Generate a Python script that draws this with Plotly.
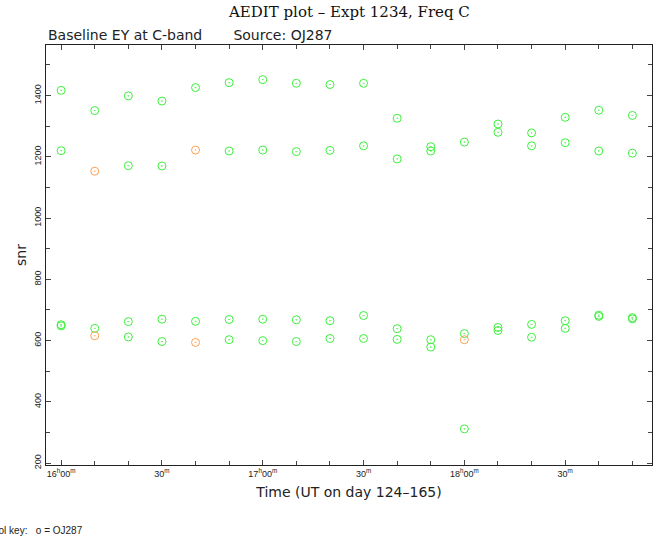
import pandas as pd
import plotly.graph_objects as go

DAY = "2000-01-01 "

# Good (green) scans
green_time = (["16:00"] * 4 + ["16:10"] * 2 + ["16:20"] * 4 + ["16:30"] * 4 +
              ["16:40"] * 2 + ["16:50"] * 4 + ["17:00"] * 4 + ["17:10"] * 4 +
              ["17:20"] * 4 + ["17:30"] * 4 + ["17:40"] * 4 + ["17:50"] * 4 +
              ["18:00"] * 3 + ["18:10"] * 4 + ["18:20"] * 4 + ["18:30"] * 4 +
              ["18:40"] * 4 + ["18:50"] * 4)
green_snr = [1417, 1220, 652, 648,
             1351, 640,
             1399, 1171, 662, 612,
             1382, 1170, 670, 597,
             1426, 663,
             1442, 1219, 669, 603,
             1452, 1222, 670, 600,
             1440, 1217, 668, 597,
             1436, 1221, 665, 607,
             1440, 1236, 682, 607,
             1326, 1193, 639, 604,
             1233, 1219, 603, 579,
             1248, 623, 312,
             1307, 1280, 643, 633,
             1278, 1236, 653, 611,
             1329, 1246, 665, 640,
             1352, 1219, 683, 679,
             1335, 1212, 675, 671]

# Flagged (orange) scans
orange_time = ["16:10", "16:10", "16:40", "16:40", "18:00"]
orange_snr = [1153, 616, 1222, 594, 603]

tick_times = ["16:00", "16:30", "17:00", "17:30", "18:00", "18:30"]
tick_text = ["16<sup>h</sup>00<sup>m</sup>", "30<sup>m</sup>", "17<sup>h</sup>00<sup>m</sup>",
             "30<sup>m</sup>", "18<sup>h</sup>00<sup>m</sup>", "30<sup>m</sup>"]
y_ticks = [200, 400, 600, 800, 1000, 1200, 1400]


def to_dt(ts):
    return pd.to_datetime([DAY + t for t in ts])


fig = go.Figure()
fig.add_trace(go.Scatter(
    x=to_dt(green_time), y=green_snr, mode="markers",
    marker=dict(symbol="circle-open-dot", size=8, color="#3cf03c", line=dict(width=1)),
    showlegend=False))
fig.add_trace(go.Scatter(
    x=to_dt(orange_time), y=orange_snr, mode="markers",
    marker=dict(symbol="circle-open-dot", size=8, color="#ffa050", line=dict(width=1)),
    showlegend=False))

axis_common = dict(showline=True, linecolor="#222", linewidth=1, mirror="ticks",
                   ticks="inside", ticklen=5, tickcolor="#444", showgrid=False,
                   zeroline=False, automargin=False)

fig.update_xaxes(
    **axis_common,
    type="date",
    range=[DAY + "15:55:30", DAY + "18:55:50"],
    tickvals=to_dt(tick_times), ticktext=tick_text,
    tickfont=dict(family="Liberation Sans", size=9, color="#222"),
    minor=dict(ticks="inside", ticklen=4, dtick=600000, tickcolor="#444",
               tick0=DAY + "16:00"),
    title=dict(text="Time (UT on day 124\u2013165)", standoff=9,
               font=dict(family="DejaVu Sans", size=14, color="#222")),
)
fig.update_yaxes(
    **axis_common,
    range=[194, 1565],
    tickvals=y_ticks, tickangle=-90,
    tickfont=dict(family="Liberation Sans", size=9, color="#222"),
    minor=dict(ticks="inside", ticklen=4, dtick=100, tickcolor="#444"),
    title=dict(text="snr", standoff=3,
               font=dict(family="DejaVu Sans", size=14, color="#222")),
)

fig.add_annotation(text="AEDIT plot \u2013 Expt 1234, Freq C", xref="paper", yref="paper",
                   x=0.5, y=1, yshift=33, xanchor="center", yanchor="middle", showarrow=False,
                   font=dict(family="DejaVu Serif", size=15, color="#111"))
fig.add_annotation(text="Baseline EY at C-band&nbsp;&nbsp;&nbsp;&nbsp;&nbsp;&nbsp;&nbsp;Source: OJ287",
                   xref="paper", yref="paper", x=0, y=1, yshift=0,
                   xanchor="left", yanchor="bottom", showarrow=False,
                   font=dict(family="DejaVu Sans", size=14, color="#222"))
fig.add_annotation(text="Symbol key:&nbsp;&nbsp;&nbsp;o = OJ287", xref="paper", yref="paper",
                   x=-0.1232, y=0, yshift=-65, xanchor="left", yanchor="middle",
                   showarrow=False,
                   font=dict(family="Liberation Sans", size=10, color="#222"))

fig.update_layout(
    width=661, height=537,
    margin=dict(l=46, r=9, t=45, b=72),
    paper_bgcolor="white", plot_bgcolor="white",
)

fig.write_html("out.html", config={"displayModeBar": False},
               post_script="document.body.style.margin='0';")
